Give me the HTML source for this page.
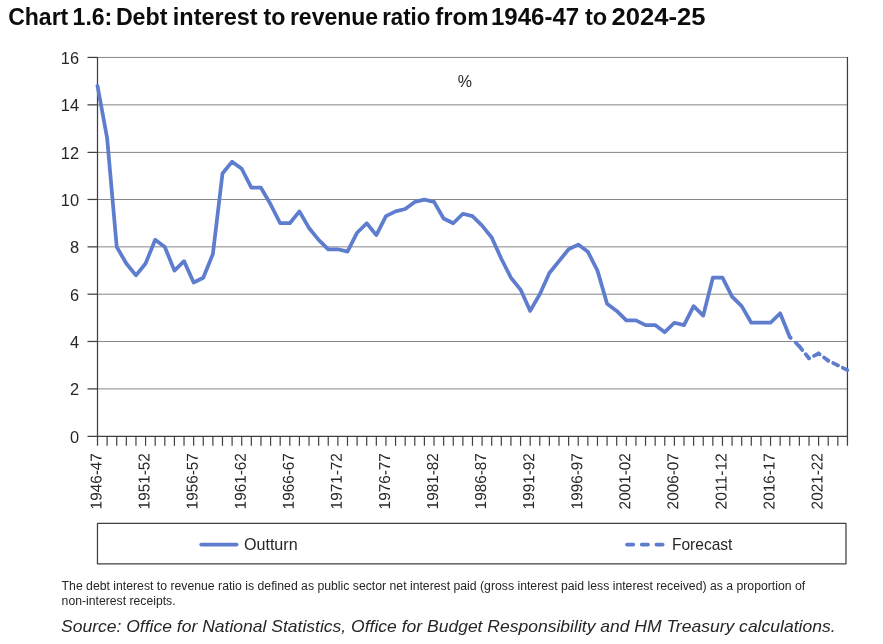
<!DOCTYPE html>
<html lang="en">
<head>
<meta charset="utf-8">
<title>Chart 1.6: Debt interest to revenue ratio from 1946-47 to 2024-25</title>
<style>
html,body{margin:0;padding:0;background:#fff;}
body{width:883px;height:644px;overflow:hidden;font-family:"Liberation Sans",sans-serif;}
svg{display:block;}
svg text{font-family:"Liberation Sans",sans-serif;}
</style>
</head>
<body>
<svg width="883" height="644" viewBox="0 0 883 644">
<rect x="0" y="0" width="883" height="644" fill="#ffffff"/>
<text id="title" y="24.7" font-size="23" font-weight="bold" fill="#0b0c0c"><tspan x="8.20" textLength="60.10" lengthAdjust="spacingAndGlyphs">Chart</tspan> <tspan x="72.60" textLength="39.70" lengthAdjust="spacingAndGlyphs">1.6:</tspan> <tspan x="115.90" textLength="51.50" lengthAdjust="spacingAndGlyphs">Debt</tspan> <tspan x="172.80" textLength="84.80" lengthAdjust="spacingAndGlyphs">interest</tspan> <tspan x="263.50" textLength="21.90" lengthAdjust="spacingAndGlyphs">to</tspan> <tspan x="289.90" textLength="88.20" lengthAdjust="spacingAndGlyphs">revenue</tspan> <tspan x="382.20" textLength="48.20" lengthAdjust="spacingAndGlyphs">ratio</tspan> <tspan x="435.30" textLength="53.30" lengthAdjust="spacingAndGlyphs">from</tspan> <tspan x="491.00" textLength="88.20" lengthAdjust="spacingAndGlyphs">1946-47</tspan> <tspan x="585.00" textLength="22.20" lengthAdjust="spacingAndGlyphs">to</tspan> <tspan x="611.60" textLength="94.00" lengthAdjust="spacingAndGlyphs">2024-25</tspan></text>
<g stroke="#868686" stroke-width="1" fill="none">
<line x1="97.5" y1="388.90" x2="847.45" y2="388.90"/>
<line x1="97.5" y1="341.47" x2="847.45" y2="341.47"/>
<line x1="97.5" y1="294.20" x2="847.45" y2="294.20"/>
<line x1="97.5" y1="246.85" x2="847.45" y2="246.85"/>
<line x1="97.5" y1="199.47" x2="847.45" y2="199.47"/>
<line x1="97.5" y1="152.40" x2="847.45" y2="152.40"/>
<line x1="97.5" y1="104.85" x2="847.45" y2="104.85"/>
<line x1="97.5" y1="57.43" x2="847.45" y2="57.43"/>
</g>
<g stroke="#404040" stroke-width="1.25" fill="none">
<line x1="97.5" y1="56.93" x2="97.5" y2="445.83"/>
<line x1="847.45" y1="56.93" x2="847.45" y2="445.83"/>
<line x1="87.5" y1="436.43" x2="847.45" y2="436.43"/>
<line x1="87.5" y1="388.90" x2="97.5" y2="388.90"/>
<line x1="87.5" y1="341.47" x2="97.5" y2="341.47"/>
<line x1="87.5" y1="294.20" x2="97.5" y2="294.20"/>
<line x1="87.5" y1="246.85" x2="97.5" y2="246.85"/>
<line x1="87.5" y1="199.47" x2="97.5" y2="199.47"/>
<line x1="87.5" y1="152.40" x2="97.5" y2="152.40"/>
<line x1="87.5" y1="104.85" x2="97.5" y2="104.85"/>
<line x1="87.5" y1="57.43" x2="97.5" y2="57.43"/>
</g>
<g stroke="#404040" stroke-width="1.2" fill="none">
<line x1="107.11" y1="436.43" x2="107.11" y2="445.83"/>
<line x1="116.73" y1="436.43" x2="116.73" y2="445.83"/>
<line x1="126.34" y1="436.43" x2="126.34" y2="445.83"/>
<line x1="135.96" y1="436.43" x2="135.96" y2="445.83"/>
<line x1="145.57" y1="436.43" x2="145.57" y2="445.83"/>
<line x1="155.19" y1="436.43" x2="155.19" y2="445.83"/>
<line x1="164.80" y1="436.43" x2="164.80" y2="445.83"/>
<line x1="174.42" y1="436.43" x2="174.42" y2="445.83"/>
<line x1="184.03" y1="436.43" x2="184.03" y2="445.83"/>
<line x1="193.65" y1="436.43" x2="193.65" y2="445.83"/>
<line x1="203.26" y1="436.43" x2="203.26" y2="445.83"/>
<line x1="212.88" y1="436.43" x2="212.88" y2="445.83"/>
<line x1="222.49" y1="436.43" x2="222.49" y2="445.83"/>
<line x1="232.11" y1="436.43" x2="232.11" y2="445.83"/>
<line x1="241.72" y1="436.43" x2="241.72" y2="445.83"/>
<line x1="251.34" y1="436.43" x2="251.34" y2="445.83"/>
<line x1="260.95" y1="436.43" x2="260.95" y2="445.83"/>
<line x1="270.57" y1="436.43" x2="270.57" y2="445.83"/>
<line x1="280.18" y1="436.43" x2="280.18" y2="445.83"/>
<line x1="289.79" y1="436.43" x2="289.79" y2="445.83"/>
<line x1="299.41" y1="436.43" x2="299.41" y2="445.83"/>
<line x1="309.02" y1="436.43" x2="309.02" y2="445.83"/>
<line x1="318.64" y1="436.43" x2="318.64" y2="445.83"/>
<line x1="328.25" y1="436.43" x2="328.25" y2="445.83"/>
<line x1="337.87" y1="436.43" x2="337.87" y2="445.83"/>
<line x1="347.48" y1="436.43" x2="347.48" y2="445.83"/>
<line x1="357.10" y1="436.43" x2="357.10" y2="445.83"/>
<line x1="366.71" y1="436.43" x2="366.71" y2="445.83"/>
<line x1="376.33" y1="436.43" x2="376.33" y2="445.83"/>
<line x1="385.94" y1="436.43" x2="385.94" y2="445.83"/>
<line x1="395.56" y1="436.43" x2="395.56" y2="445.83"/>
<line x1="405.17" y1="436.43" x2="405.17" y2="445.83"/>
<line x1="414.79" y1="436.43" x2="414.79" y2="445.83"/>
<line x1="424.40" y1="436.43" x2="424.40" y2="445.83"/>
<line x1="434.02" y1="436.43" x2="434.02" y2="445.83"/>
<line x1="443.63" y1="436.43" x2="443.63" y2="445.83"/>
<line x1="453.25" y1="436.43" x2="453.25" y2="445.83"/>
<line x1="462.86" y1="436.43" x2="462.86" y2="445.83"/>
<line x1="472.48" y1="436.43" x2="472.48" y2="445.83"/>
<line x1="482.09" y1="436.43" x2="482.09" y2="445.83"/>
<line x1="491.70" y1="436.43" x2="491.70" y2="445.83"/>
<line x1="501.32" y1="436.43" x2="501.32" y2="445.83"/>
<line x1="510.93" y1="436.43" x2="510.93" y2="445.83"/>
<line x1="520.55" y1="436.43" x2="520.55" y2="445.83"/>
<line x1="530.16" y1="436.43" x2="530.16" y2="445.83"/>
<line x1="539.78" y1="436.43" x2="539.78" y2="445.83"/>
<line x1="549.39" y1="436.43" x2="549.39" y2="445.83"/>
<line x1="559.01" y1="436.43" x2="559.01" y2="445.83"/>
<line x1="568.62" y1="436.43" x2="568.62" y2="445.83"/>
<line x1="578.24" y1="436.43" x2="578.24" y2="445.83"/>
<line x1="587.85" y1="436.43" x2="587.85" y2="445.83"/>
<line x1="597.47" y1="436.43" x2="597.47" y2="445.83"/>
<line x1="607.08" y1="436.43" x2="607.08" y2="445.83"/>
<line x1="616.70" y1="436.43" x2="616.70" y2="445.83"/>
<line x1="626.31" y1="436.43" x2="626.31" y2="445.83"/>
<line x1="635.93" y1="436.43" x2="635.93" y2="445.83"/>
<line x1="645.54" y1="436.43" x2="645.54" y2="445.83"/>
<line x1="655.16" y1="436.43" x2="655.16" y2="445.83"/>
<line x1="664.77" y1="436.43" x2="664.77" y2="445.83"/>
<line x1="674.38" y1="436.43" x2="674.38" y2="445.83"/>
<line x1="684.00" y1="436.43" x2="684.00" y2="445.83"/>
<line x1="693.61" y1="436.43" x2="693.61" y2="445.83"/>
<line x1="703.23" y1="436.43" x2="703.23" y2="445.83"/>
<line x1="712.84" y1="436.43" x2="712.84" y2="445.83"/>
<line x1="722.46" y1="436.43" x2="722.46" y2="445.83"/>
<line x1="732.07" y1="436.43" x2="732.07" y2="445.83"/>
<line x1="741.69" y1="436.43" x2="741.69" y2="445.83"/>
<line x1="751.30" y1="436.43" x2="751.30" y2="445.83"/>
<line x1="760.92" y1="436.43" x2="760.92" y2="445.83"/>
<line x1="770.53" y1="436.43" x2="770.53" y2="445.83"/>
<line x1="780.15" y1="436.43" x2="780.15" y2="445.83"/>
<line x1="789.76" y1="436.43" x2="789.76" y2="445.83"/>
<line x1="799.38" y1="436.43" x2="799.38" y2="445.83"/>
<line x1="808.99" y1="436.43" x2="808.99" y2="445.83"/>
<line x1="818.61" y1="436.43" x2="818.61" y2="445.83"/>
<line x1="828.22" y1="436.43" x2="828.22" y2="445.83"/>
<line x1="837.84" y1="436.43" x2="837.84" y2="445.83"/>
</g>
<g font-size="16.4" fill="#262626" text-anchor="end">
<text class="yl" x="79.0" y="442.88">0</text>
<text class="yl" x="79.0" y="395.35">2</text>
<text class="yl" x="79.0" y="347.92">4</text>
<text class="yl" x="79.0" y="300.65">6</text>
<text class="yl" x="79.0" y="253.30">8</text>
<text class="yl" x="79.0" y="205.92">10</text>
<text class="yl" x="79.0" y="158.85">12</text>
<text class="yl" x="79.0" y="111.30">14</text>
<text class="yl" x="79.0" y="63.88">16</text>
</g>
<text id="pct" x="464.9" y="86.6" font-size="16" fill="#262626" text-anchor="middle">%</text>
<g font-size="15.8" fill="#262626" text-anchor="end">
<text class="xl" transform="translate(101.50 453.2) rotate(-89.95)" x="0" y="0" textLength="56.2" lengthAdjust="spacingAndGlyphs">1946-47</text>
<text class="xl" transform="translate(149.57 453.2) rotate(-89.95)" x="0" y="0" textLength="56.2" lengthAdjust="spacingAndGlyphs">1951-52</text>
<text class="xl" transform="translate(197.65 453.2) rotate(-89.95)" x="0" y="0" textLength="56.2" lengthAdjust="spacingAndGlyphs">1956-57</text>
<text class="xl" transform="translate(245.72 453.2) rotate(-89.95)" x="0" y="0" textLength="56.2" lengthAdjust="spacingAndGlyphs">1961-62</text>
<text class="xl" transform="translate(293.79 453.2) rotate(-89.95)" x="0" y="0" textLength="56.2" lengthAdjust="spacingAndGlyphs">1966-67</text>
<text class="xl" transform="translate(341.87 453.2) rotate(-89.95)" x="0" y="0" textLength="56.2" lengthAdjust="spacingAndGlyphs">1971-72</text>
<text class="xl" transform="translate(389.94 453.2) rotate(-89.95)" x="0" y="0" textLength="56.2" lengthAdjust="spacingAndGlyphs">1976-77</text>
<text class="xl" transform="translate(438.02 453.2) rotate(-89.95)" x="0" y="0" textLength="56.2" lengthAdjust="spacingAndGlyphs">1981-82</text>
<text class="xl" transform="translate(486.09 453.2) rotate(-89.95)" x="0" y="0" textLength="56.2" lengthAdjust="spacingAndGlyphs">1986-87</text>
<text class="xl" transform="translate(534.16 453.2) rotate(-89.95)" x="0" y="0" textLength="56.2" lengthAdjust="spacingAndGlyphs">1991-92</text>
<text class="xl" transform="translate(582.24 453.2) rotate(-89.95)" x="0" y="0" textLength="56.2" lengthAdjust="spacingAndGlyphs">1996-97</text>
<text class="xl" transform="translate(630.31 453.2) rotate(-89.95)" x="0" y="0" textLength="56.2" lengthAdjust="spacingAndGlyphs">2001-02</text>
<text class="xl" transform="translate(678.38 453.2) rotate(-89.95)" x="0" y="0" textLength="56.2" lengthAdjust="spacingAndGlyphs">2006-07</text>
<text class="xl" transform="translate(726.46 453.2) rotate(-89.95)" x="0" y="0" textLength="56.2" lengthAdjust="spacingAndGlyphs">2011-12</text>
<text class="xl" transform="translate(774.53 453.2) rotate(-89.95)" x="0" y="0" textLength="56.2" lengthAdjust="spacingAndGlyphs">2016-17</text>
<text class="xl" transform="translate(822.61 453.2) rotate(-89.95)" x="0" y="0" textLength="56.2" lengthAdjust="spacingAndGlyphs">2021-22</text>
</g>
<polyline points="97.50,85.86 107.11,137.97 116.73,246.93 126.34,263.51 135.96,275.36 145.57,263.51 155.19,239.82 164.80,246.93 174.42,270.62 184.03,261.14 193.65,282.46 203.26,277.72 212.88,254.04 222.49,173.50 232.11,161.66 241.72,168.76 251.34,187.71 260.95,187.71 270.57,204.29 280.18,223.24 289.79,223.24 299.41,211.40 309.02,227.98 318.64,239.82 328.25,249.30 337.87,249.30 347.48,251.67 357.10,232.72 366.71,223.24 376.33,235.09 385.94,216.14 395.56,211.40 405.17,209.03 414.79,201.92 424.40,199.56 434.02,201.92 443.63,218.51 453.25,223.24 462.86,213.77 472.48,216.14 482.09,225.61 491.70,237.46 501.32,258.77 510.93,277.72 520.55,289.57 530.16,310.89 539.78,294.31 549.39,272.99 559.01,261.14 568.62,249.30 578.24,244.56 587.85,251.67 597.47,270.62 607.08,303.78 616.70,310.89 626.31,320.36 635.93,320.36 645.54,325.10 655.16,325.10 664.77,332.20 674.38,322.73 684.00,325.10 693.61,306.15 703.23,315.62 712.84,277.72 722.46,277.72 732.07,296.67 741.69,306.15 751.30,322.73 760.92,322.73 770.53,322.73 780.15,313.25 789.76,336.94" fill="none" stroke="#5f7dce" stroke-width="3.75" stroke-linejoin="round" stroke-linecap="round"/>
<g fill="none" stroke="#5f7dce" stroke-width="3.75" stroke-linecap="round" stroke-dasharray="5.2 5.5">
<path d="M799.38 346.42L789.76 336.94" stroke-dasharray="5.2 6.95 1.3 100"/>
<path d="M808.99 358.26L799.38 346.42"/>
<path d="M818.61 353.52L808.99 358.26"/>
<path d="M828.22 360.63L818.61 353.52"/>
<path d="M837.84 365.37L828.22 360.63"/>
<path d="M847.45 370.11L837.84 365.37"/>
</g>
<rect x="97.47" y="523.47" width="748.5" height="40.28" fill="none" stroke="#404040" stroke-width="1.25" stroke-linejoin="round"/>
<line x1="201.2" y1="544.6" x2="236.6" y2="544.6" stroke="#5f7dce" stroke-width="3.75" stroke-linecap="round"/>
<text id="lg1" x="244" y="549.7" font-size="16.4" fill="#262626" textLength="53.6" lengthAdjust="spacingAndGlyphs">Outturn</text>
<path d="M662.7 544.6L627 544.6" fill="none" stroke="#5f7dce" stroke-width="3.75" stroke-linecap="round" stroke-dasharray="6.3 8.4"/>
<text id="lg2" x="672" y="549.7" font-size="16.4" fill="#262626" textLength="60.4" lengthAdjust="spacingAndGlyphs">Forecast</text>
<text id="fn1" x="61.6" y="589.7" font-size="12" fill="#262626" textLength="743.6" lengthAdjust="spacingAndGlyphs">The debt interest to revenue ratio is defined as public sector net interest paid (gross interest paid less interest received) as a proportion of</text>
<text id="fn2" x="61.6" y="605.0" font-size="12" fill="#262626" textLength="114" lengthAdjust="spacingAndGlyphs">non-interest receipts.</text>
<text id="src" x="61" y="631.9" font-size="16.6" font-style="italic" fill="#262626" textLength="774.5" lengthAdjust="spacingAndGlyphs">Source: Office for National Statistics, Office for Budget Responsibility and HM Treasury calculations.</text>
</svg>
</body>
</html>
